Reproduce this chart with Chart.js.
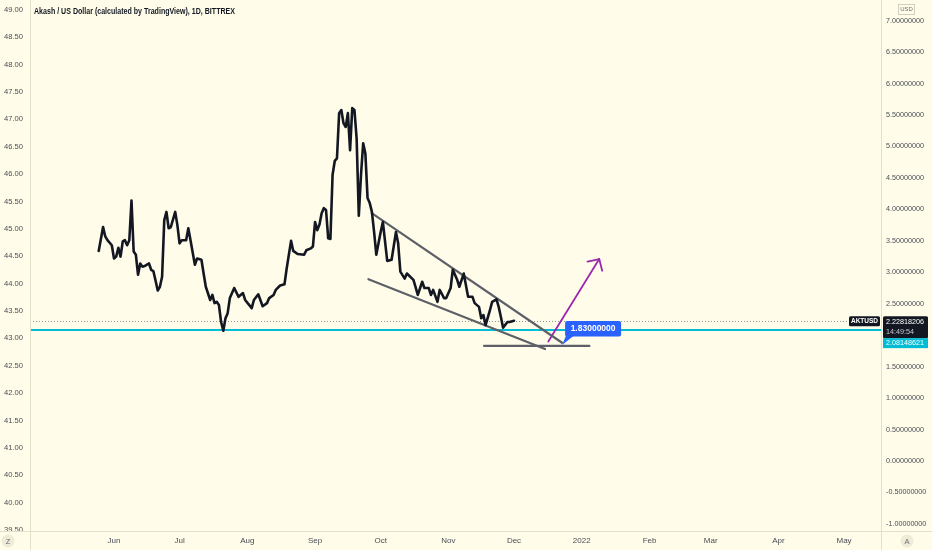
<!DOCTYPE html>
<html>
<head>
<meta charset="utf-8">
<script src="https://cdn.jsdelivr.net/npm/chart.js@4.4.1/dist/chart.umd.min.js"></script>
<style>
  html, body { margin: 0; padding: 0; background: #fffde9; }
  #wrap { position: relative; width: 932px; height: 550px; }
</style>
</head>
<body>
<div id="wrap"><canvas id="chart"></canvas></div>
<script>
// ── Datos (día desde 1 jun 2021, precio AKT en USD) ─────────────
const days = [
  -7, -5, -4, -3, -1, 0, 1, 2, 3, 4,
  5, 6, 7, 8, 9, 10, 11, 12, 13, 14,
  16, 17, 18, 19, 20, 21, 22, 23, 24, 25,
  26, 28, 29, 30, 31, 33, 34, 35, 37, 38,
  40, 41, 42, 44, 45, 46, 47, 48, 49, 50,
  51, 52, 53, 55, 57, 59, 60, 63, 64, 66,
  68, 70, 71, 73, 74, 76, 78, 79, 81, 82,
  84, 87, 88, 90, 91, 92, 93, 94, 95, 96,
  97, 98, 99, 100, 101, 102, 103, 104, 105, 106,
  107, 108, 109, 110, 111, 112, 113, 114, 115, 116,
  117, 118, 119, 120, 122, 123, 125, 127, 129, 130,
  131, 133, 134, 137, 139, 141, 142, 144, 145, 146,
  148, 149, 151, 152, 154, 155, 157, 158, 160, 162,
  164, 165, 167, 168, 169, 170, 172, 173, 175, 176,
  177, 178, 180, 181, 183
];
const prices = [
  3.34, 3.72, 3.57, 3.51, 3.43, 3.22, 3.25, 3.39, 3.25, 3.49,
  3.51, 3.43, 3.51, 4.14, 3.33, 3.28, 2.96, 3.14, 3.09, 3.10,
  3.14, 3.04, 3.02, 2.87, 2.71, 2.77, 2.93, 3.83, 3.96, 3.70,
  3.72, 3.96, 3.75, 3.46, 3.51, 3.51, 3.70, 3.51, 3.12, 3.22,
  3.20, 2.98, 2.77, 2.56, 2.64, 2.51, 2.53, 2.48, 2.21, 2.07,
  2.27, 2.35, 2.59, 2.75, 2.61, 2.67, 2.56, 2.43, 2.56, 2.65,
  2.46, 2.51, 2.59, 2.64, 2.72, 2.79, 2.81, 3.06, 3.50, 3.34,
  3.29, 3.28, 3.35, 3.38, 3.41, 3.80, 3.67, 3.76, 3.94, 4.02,
  3.99, 3.54, 3.53, 4.55, 4.77, 4.81, 5.53, 5.58, 5.37, 5.31,
  5.53, 4.94, 5.61, 5.58, 5.13, 3.90, 4.55, 5.05, 4.89, 4.18,
  4.10, 3.96, 3.64, 3.28, 3.64, 3.80, 3.18, 3.20, 3.64, 3.46,
  3.01, 2.90, 2.98, 2.88, 2.64, 2.85, 2.75, 2.75, 2.64, 2.72,
  2.53, 2.72, 2.59, 2.59, 2.75, 3.04, 2.88, 2.77, 2.98, 2.61,
  2.61, 2.51, 2.45, 2.27, 2.32, 2.16, 2.40, 2.53, 2.57, 2.45,
  2.29, 2.12, 2.21, 2.21, 2.23
];

// dibujos: [día, precio]
const upperTrend = [[117.9, 3.94], [205.0, 1.88]];
const lowerTrend = [[116.4, 2.89], [197.2, 1.78]];
const baseLine   = [[169.3, 1.83], [217.5, 1.83]];
const arrowLine  = [[198.7, 1.90], [222.0, 3.21]];

const lastPrice = 2.22818206;
const supportLevel = 2.08148621;
const targetLevel = 1.83;
const targetDay = 205.0;
const lastTime = '14:49:54';

// ejes
const monthDays   = [0, 30, 61, 92, 122, 153, 183, 214, 245, 273, 304, 334];
const monthLabels = ['Jun', 'Jul', 'Aug', 'Sep', 'Oct', 'Nov', 'Dec', '2022', 'Feb', 'Mar', 'Apr', 'May'];
const rightTicks = [-1, -0.5, 0, 0.5, 1, 1.5, 2, 2.5, 3, 3.5, 4, 4.5, 5, 5.5, 6, 6.5, 7];
const leftTicks = [39.5, 40, 40.5, 41, 41.5, 42, 42.5, 43, 43.5, 44, 44.5, 45, 45.5, 46, 46.5, 47, 47.5, 48, 48.5, 49];

const title = 'Akash / US Dollar (calculated by TradingView), 1D, BITTREX';

// ── Estilos ─────────────────────────────────────────────────────
const BG = '#fffde9';
const FONT = '"Liberation Sans", Arial, sans-serif';
const TXT = '#4a4d57';
const SEP = '#e4e0c9';

const pts = arr => arr.map(p => ({ x: p[0], y: p[1] }));
const fixSize = (prop, val) => s => {
  s[prop] = val;
  s.paddingTop = 0; s.paddingBottom = 0; s.paddingLeft = 0; s.paddingRight = 0;
};

function roundRect(c, x, y, w, h, r) {
  c.beginPath();
  c.moveTo(x + r, y);
  c.lineTo(x + w - r, y); c.quadraticCurveTo(x + w, y, x + w, y + r);
  c.lineTo(x + w, y + h - r); c.quadraticCurveTo(x + w, y + h, x + w - r, y + h);
  c.lineTo(x + r, y + h); c.quadraticCurveTo(x, y + h, x, y + h - r);
  c.lineTo(x, y + r); c.quadraticCurveTo(x, y, x + r, y);
  c.closePath();
}

const overlay = {
  id: 'overlay',
  beforeDraw(chart) {
    const c = chart.ctx;
    c.save(); c.fillStyle = BG; c.fillRect(0, 0, chart.width, chart.height); c.restore();
  },
  beforeDatasetsDraw(chart) {
    // línea punteada del último precio
    const c = chart.ctx, a = chart.chartArea;
    const py = Math.round(chart.scales.y.getPixelForValue(lastPrice)) + 0.5;
    c.save();
    c.strokeStyle = '#8f929b'; c.lineWidth = 1; c.setLineDash([1, 2]);
    c.beginPath(); c.moveTo(a.left, py); c.lineTo(849, py); c.stroke();
    c.restore();
  },
  afterDatasetsDraw(chart) {
    const c = chart.ctx, xs = chart.scales.x, ys = chart.scales.y;
    // punta de flecha
    const x0 = xs.getPixelForValue(arrowLine[0][0]), y0 = ys.getPixelForValue(arrowLine[0][1]);
    const x1 = xs.getPixelForValue(arrowLine[1][0]), y1 = ys.getPixelForValue(arrowLine[1][1]);
    const ang = Math.atan2(y0 - y1, x0 - x1);
    c.save();
    c.strokeStyle = '#9c27b0'; c.lineWidth = 1.8; c.lineCap = 'round';
    [-0.8, 0.8].forEach(d => {
      c.beginPath(); c.moveTo(x1, y1);
      c.lineTo(x1 + 12 * Math.cos(ang + d), y1 + 12 * Math.sin(ang + d)); c.stroke();
    });
    // etiqueta 1.83
    const tx = xs.getPixelForValue(targetDay), ty = ys.getPixelForValue(targetLevel);
    const bx = tx + 3, by = ty - 25, bw = 56, bh = 15.5;
    c.fillStyle = '#2962ff';
    roundRect(c, bx, by, bw, bh, 2); c.fill();
    c.beginPath(); c.moveTo(bx + 1, by + bh - 1); c.lineTo(bx + 9, by + bh - 1); c.lineTo(tx, ty - 1); c.closePath(); c.fill();
    c.fillStyle = '#ffffff'; c.font = 'bold 8.5px ' + FONT;
    c.textAlign = 'center'; c.textBaseline = 'middle';
    c.fillText(targetLevel.toFixed(8), bx + bw / 2, by + bh / 2 + 0.5);
    c.restore();
  },
  afterDraw(chart) {
    const c = chart.ctx, a = chart.chartArea, ys = chart.scales.y;
    c.save();
    // separadores
    c.strokeStyle = SEP; c.lineWidth = 1;
    c.beginPath();
    c.moveTo(a.left + 0.5, 0); c.lineTo(a.left + 0.5, chart.height);
    c.moveTo(a.right + 0.5, 0); c.lineTo(a.right + 0.5, chart.height);
    c.moveTo(0, a.bottom + 0.5); c.lineTo(chart.width, a.bottom + 0.5);
    c.stroke();
    // título
    c.fillStyle = '#131722'; c.font = 'bold 9px ' + FONT;
    c.textAlign = 'left'; c.textBaseline = 'middle';
    const w = c.measureText(title).width;
    c.save(); c.translate(34, 11.5); c.scale(201 / w, 1); c.fillText(title, 0, 0); c.restore();
    // etiquetas del eje derecho
    const py = ys.getPixelForValue(lastPrice);
    c.fillStyle = '#131722';
    roundRect(c, 849, py - 4.5, 31, 10, 1.5); c.fill();
    roundRect(c, 883, py - 4.5, 45, 21.8, 1.5); c.fill();
    c.fillStyle = '#00bcd4';
    c.fillRect(883, py + 17.3, 45, 10);
    c.fillStyle = '#ffffff'; c.font = 'bold 6.5px ' + FONT; c.textAlign = 'center';
    c.fillText('AKTUSD', 864.5, py + 0.7);
    c.textAlign = 'left'; c.font = '7.2px ' + FONT;
    c.fillText(lastPrice.toFixed(8), 886, py + 0.7);
    c.fillText(supportLevel.toFixed(8), 886, py + 22.5);
    c.fillStyle = '#c8cad0';
    c.fillText(lastTime, 886, py + 11.2);
    // USD
    c.strokeStyle = '#d2cfbb'; c.strokeRect(898.5, 4.5, 16, 10);
    c.fillStyle = '#6a6d78'; c.font = '6px ' + FONT; c.textAlign = 'center';
    c.fillText('USD', 906.5, 9.8);
    // Z / A
    [['Z', 8], ['A', 907]].forEach(([t, x]) => {
      c.fillStyle = '#eeebd6';
      c.beginPath(); c.arc(x, 541, 6.5, 0, Math.PI * 2); c.fill();
      c.fillStyle = '#6a6d78'; c.font = '7.5px ' + FONT;
      c.fillText(t, x, 541.5);
    });
    c.restore();
  }
};

const X_MIN = -38.43, X_MAX = 350.9;
const lineDs = (data, color, width, extra) => Object.assign({
  data, borderColor: color, borderWidth: width, pointRadius: 0, tension: 0,
  fill: false, yAxisID: 'y', borderCapStyle: 'round'
}, extra || {});

new Chart(document.getElementById('chart').getContext('2d'), {
  type: 'line',
  data: {
    datasets: [
      lineDs(days.map((d, i) => ({ x: d, y: prices[i] })), '#131722', 2.6, { borderJoinStyle: 'round' }),
      lineDs(pts(upperTrend), '#5d6068', 2.2),
      lineDs(pts(lowerTrend), '#5d6068', 2.2),
      lineDs(pts(baseLine), '#5d6068', 2.2),
      lineDs(pts(arrowLine), '#9c27b0', 1.8),
      lineDs([{ x: X_MIN, y: supportLevel }, { x: X_MAX, y: supportLevel }], '#00bcd4', 2)
    ]
  },
  options: {
    responsive: true, maintainAspectRatio: false, animation: false,
    layout: { padding: 0 },
    plugins: { legend: { display: false }, tooltip: { enabled: false } },
    scales: {
      x: {
        type: 'linear', position: 'bottom', min: X_MIN, max: X_MAX,
        grid: { display: false, drawTicks: false }, border: { display: false },
        ticks: {
          font: { family: FONT, size: 8 }, color: TXT, padding: 5, maxRotation: 0, autoSkip: false,
          callback: v => { const i = monthDays.indexOf(v); return i < 0 ? '' : monthLabels[i]; }
        },
        afterBuildTicks: s => { s.ticks = monthDays.map(v => ({ value: v })); },
        afterFit: fixSize('height', 19)
      },
      y: {
        type: 'linear', position: 'right', min: -1.113, max: 7.329,
        grid: { display: false, drawTicks: false }, border: { display: false },
        ticks: { font: { family: FONT, size: 7.2 }, color: TXT, padding: 5, callback: v => v.toFixed(8) },
        afterBuildTicks: s => { s.ticks = rightTicks.map(v => ({ value: v })); },
        afterFit: fixSize('width', 51)
      },
      yLeft: {
        type: 'linear', position: 'left', min: 39.48, max: 49.18,
        grid: { display: false, drawTicks: false }, border: { display: false },
        ticks: { font: { family: FONT, size: 7.6 }, color: TXT, padding: 7, callback: v => v.toFixed(2) },
        afterBuildTicks: s => { s.ticks = leftTicks.map(v => ({ value: v })); },
        afterFit: fixSize('width', 30)
      }
    }
  },
  plugins: [overlay]
});
</script>
</body>
</html>
